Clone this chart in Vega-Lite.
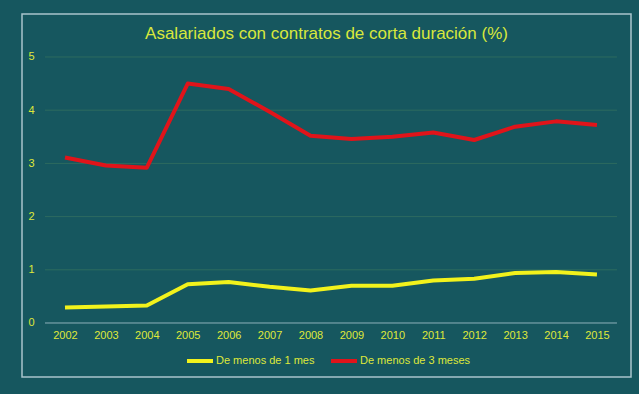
{
  "$schema": "https://vega.github.io/schema/vega-lite/v6.json",
  "width": 609,
  "height": 363,
  "autosize": "none",
  "padding": {"left": 22, "top": 14, "right": 8, "bottom": 17},
  "background": "#16575f",
  "title": {
    "text": "Asalariados con contratos de corta duración (%)",
    "offset": -29,
    "anchor": "middle",
    "frame": "group",
    "font": "Liberation Sans",
    "fontSize": 17,
    "fontWeight": "normal",
    "color": "#d8e83c"
  },
  "config": {
    "view": {"stroke": "#a9c5cd", "strokeWidth": 1.5},
    "axis": {"labelFont": "Liberation Sans", "labelFontSize": 11, "labelColor": "#dfe83a"},
    "legend": {"labelFont": "Liberation Sans", "labelFontSize": 11, "labelColor": "#dfe83a"}
  },
  "datasets": {
    "series": [
      {"year": "2002", "serie": "De menos de 1 mes", "value": 0.29},
      {"year": "2003", "serie": "De menos de 1 mes", "value": 0.31},
      {"year": "2004", "serie": "De menos de 1 mes", "value": 0.33},
      {"year": "2005", "serie": "De menos de 1 mes", "value": 0.73},
      {"year": "2006", "serie": "De menos de 1 mes", "value": 0.77},
      {"year": "2007", "serie": "De menos de 1 mes", "value": 0.68},
      {"year": "2008", "serie": "De menos de 1 mes", "value": 0.61},
      {"year": "2009", "serie": "De menos de 1 mes", "value": 0.7},
      {"year": "2010", "serie": "De menos de 1 mes", "value": 0.7},
      {"year": "2011", "serie": "De menos de 1 mes", "value": 0.8},
      {"year": "2012", "serie": "De menos de 1 mes", "value": 0.83},
      {"year": "2013", "serie": "De menos de 1 mes", "value": 0.94},
      {"year": "2014", "serie": "De menos de 1 mes", "value": 0.96},
      {"year": "2015", "serie": "De menos de 1 mes", "value": 0.91},
      {"year": "2002", "serie": "De menos de 3 meses", "value": 3.11},
      {"year": "2003", "serie": "De menos de 3 meses", "value": 2.96},
      {"year": "2004", "serie": "De menos de 3 meses", "value": 2.92},
      {"year": "2005", "serie": "De menos de 3 meses", "value": 4.5},
      {"year": "2006", "serie": "De menos de 3 meses", "value": 4.4},
      {"year": "2007", "serie": "De menos de 3 meses", "value": 3.97},
      {"year": "2008", "serie": "De menos de 3 meses", "value": 3.52},
      {"year": "2009", "serie": "De menos de 3 meses", "value": 3.46},
      {"year": "2010", "serie": "De menos de 3 meses", "value": 3.5},
      {"year": "2011", "serie": "De menos de 3 meses", "value": 3.58},
      {"year": "2012", "serie": "De menos de 3 meses", "value": 3.44},
      {"year": "2013", "serie": "De menos de 3 meses", "value": 3.69},
      {"year": "2014", "serie": "De menos de 3 meses", "value": 3.79},
      {"year": "2015", "serie": "De menos de 3 meses", "value": 3.72}
    ],
    "gridlines": [
      {"v": 0}, {"v": 1}, {"v": 2}, {"v": 3}, {"v": 4}, {"v": 5}
    ]
  },
  "layer": [
    {
      "data": {"name": "gridlines"},
      "mark": {"type": "rule", "xOffset": -20, "x2Offset": 20, "strokeWidth": 1},
      "encoding": {
        "y": {"field": "v", "type": "quantitative"},
        "x": {"datum": "2002", "type": "ordinal"},
        "x2": {"datum": "2015"},
        "color": {
          "condition": {"test": "datum.v === 0", "value": "#8fb1bb"},
          "value": "#2d6b5f"
        }
      }
    },
    {
      "data": {"name": "series"},
      "mark": {"type": "line", "strokeWidth": 4, "strokeJoin": "round"},
      "encoding": {
        "x": {
          "field": "year",
          "type": "ordinal",
          "title": null,
          "scale": {"type": "point", "padding": 0.941, "align": 0.558},
          "axis": {
            "orient": "bottom",
            "offset": -54,
            "domain": false,
            "ticks": false,
            "labelPadding": 12,
            "labelAngle": 0,
            "labelAlign": "center"
          }
        },
        "y": {
          "field": "value",
          "type": "quantitative",
          "title": null,
          "scale": {"domain": [-1.015, 5.808], "nice": false, "zero": false},
          "axis": {
            "values": [0, 1, 2, 3, 4, 5],
            "format": "d",
            "grid": false,
            "domain": false,
            "ticks": false,
            "labelPadding": -12
          }
        },
        "color": {
          "field": "serie",
          "type": "nominal",
          "scale": {
            "domain": ["De menos de 1 mes", "De menos de 3 meses"],
            "range": ["#f2f21c", "#e0141a"]
          },
          "legend": {
            "title": null,
            "orient": "none",
            "legendX": 163,
            "legendY": 332,
            "direction": "horizontal",
            "symbolType": "stroke",
            "symbolStrokeWidth": 4,
            "symbolSize": 676,
            "labelOffset": 1,
            "columnPadding": 8
          }
        }
      }
    }
  ]
}
